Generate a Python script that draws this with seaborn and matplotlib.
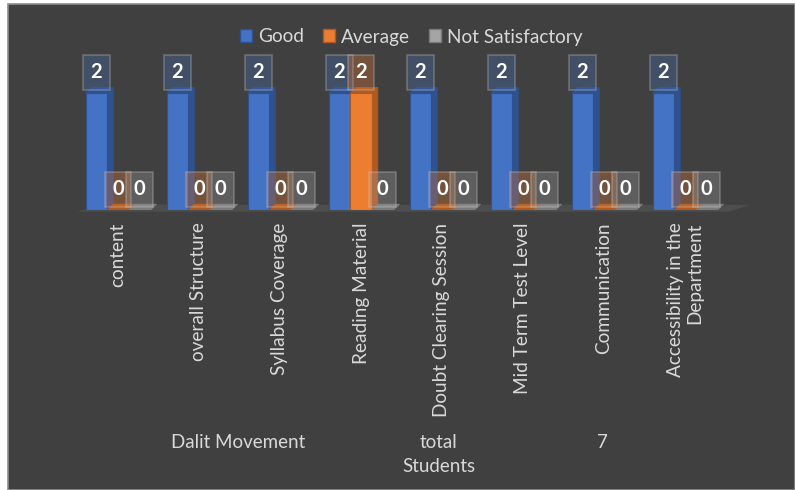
import matplotlib
matplotlib.use("Agg")
import matplotlib.pyplot as plt
import seaborn as sns
import pandas as pd
from matplotlib.patches import Polygon, Rectangle, Patch

categories = ["content", "overall Structure", "Syllabus Coverage", "Reading Material",
              "Doubt Clearing Session", "Mid Term Test Level", "Communication",
              "Accessibility in the\nDepartment"]
good = [2, 2, 2, 2, 2, 2, 2, 2]
average = [0, 0, 0, 2, 0, 0, 0, 0]
not_satisfactory = [0, 0, 0, 0, 0, 0, 0, 0]
series_names = ["Good", "Average", "Not Satisfactory"]
colors = ["#4472C4", "#ED7D31", "#A5A5A5"]
side_colors = ["#2F528F", "#AE5A21", "#7B7B7B"]
bottom_texts = ["Dalit Movement", "total\nStudents", "7"]

rows = []
for name, vals in zip(series_names, [good, average, not_satisfactory]):
    for c, v in zip(categories, vals):
        rows.append({"Aspect": c, "Rating": name, "Count": v})
df = pd.DataFrame(rows)

sns.set_theme(style="dark")
plt.rcParams["font.family"] = ["Lato", "DejaVu Sans"]

fig = plt.figure(figsize=(7.95, 4.90), dpi=100)
fig.patch.set_facecolor("white")
fig.patches.append(Rectangle((8 / 795, 0), 1 - 8 / 795, 1 - 4 / 490, transform=fig.transFigure,
                             facecolor="#404040", edgecolor="#8c8c8c", linewidth=1.2, zorder=-10))

ax = fig.add_axes([77.5 / 795, 1 - 210 / 490, 648 / 795, 146 / 490])
ax.set_facecolor("none")

sns.barplot(data=df, x="Aspect", y="Count", hue="Rating", hue_order=series_names,
            palette=colors, width=0.8, ax=ax, legend=False, saturation=1,
            edgecolor="#2F528F", linewidth=0.8, zorder=3)

ax.set_ylim(0, 2.5)
ax.set_xlim(-0.5, len(categories) - 0.5)

# floor
ax.add_patch(Polygon([(-0.5, -0.03), (7.55, -0.03), (7.8, 0.09), (-0.25, 0.09)], closed=True,
                     facecolor="#4d4d4d", edgecolor="none", zorder=1, clip_on=False))

dx, dy = 0.075, 0.1
nc = len(categories)
for i, p in enumerate(ax.patches[:3 * nc]):
    s = i // nc
    x0, w, h = p.get_x(), p.get_width(), p.get_height()
    p.set_edgecolor(side_colors[s])
    ax.add_patch(Polygon([(x0 + w, 0), (x0 + w + dx, dy), (x0 + w + dx, h + dy), (x0 + w, h)],
                         closed=True, facecolor=side_colors[s], edgecolor=side_colors[s],
                         lw=0.5, zorder=2.9))
    ax.add_patch(Polygon([(x0, h), (x0 + dx, h + dy), (x0 + w + dx, h + dy), (x0 + w, h)],
                         closed=True, facecolor=side_colors[s], edgecolor=side_colors[s],
                         lw=0.5, zorder=3.1))
    ax.annotate(f"{h:.0f}", (x0 + w / 2, h), xytext=(0, 15), textcoords="offset points",
                ha="center", va="center", color="white", fontsize=14.5, fontweight="bold",
                zorder=5,
                bbox=dict(boxstyle="square,pad=0.38", facecolor=colors[s], alpha=0.3,
                          edgecolor="#d0d0d0", linewidth=1.2))

ax.set_xlabel("")
ax.set_ylabel("")
ax.set_yticks([])
ax.set_xticks(range(nc))
ax.set_xticklabels(categories, rotation=90, ha="center", va="top", multialignment="right",
                   color="#d9d9d9", fontsize=13.7)
ax.tick_params(axis="x", length=0, pad=9)
for sp in ax.spines.values():
    sp.set_visible(False)
ax.grid(False)

handles = [Patch(facecolor=c, edgecolor=e, linewidth=1) for c, e in zip(colors, side_colors)]
fig.legend(handles, series_names, loc="center", bbox_to_anchor=(411 / 795, 1 - 37 / 490),
           ncol=3, frameon=False, fontsize=13.7, labelcolor="#d9d9d9",
           handlelength=0.65, handleheight=0.65, handletextpad=0.3, columnspacing=1.0)

xs = [238 / 795, 439 / 795, 602 / 795]
for x, t in zip(xs, bottom_texts):
    fig.text(x, 1 - 442 / 490, t.split("\n")[0], ha="center", va="center",
             color="#d9d9d9", fontsize=13.5)
    if "\n" in t:
        fig.text(x, 1 - 466 / 490, t.split("\n")[1], ha="center", va="center",
                 color="#d9d9d9", fontsize=13.5)

fig.savefig("out.png", dpi=100, facecolor=fig.get_facecolor())
